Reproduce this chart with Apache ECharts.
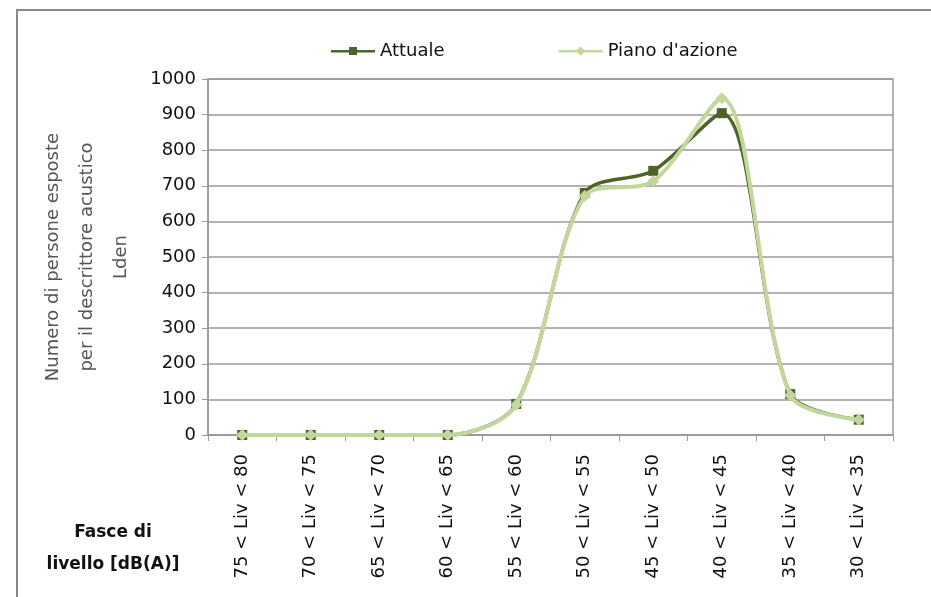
<!DOCTYPE html>
<html>
<head>
<meta charset="utf-8">
<script src="https://cdn.jsdelivr.net/npm/echarts@6/dist/echarts.min.js"></script>
<style>
html,body{margin:0;padding:0;background:#fff;}
#c{width:931px;height:597px;}
</style>
</head>
<body>
<div id="c"></div>
<script>
const categories = ['75 < Liv < 80','70 < Liv < 75','65 < Liv < 70','60 < Liv < 65','55 < Liv < 60','50 < Liv < 55','45 < Liv < 50','40 < Liv < 45','35 < Liv < 40','30 < Liv < 35'];
const attuale = [0, 0, 0, 0, 87, 680, 742, 904, 115, 43];
const pianoAzione = [0, 0, 0, 0, 85, 671, 713, 946, 112, 43];
const seriesNames = ['Attuale', "Piano d'azione"];
const yTitle = 'Numero di persone esposte\nper il descrittore acustico\nLden';
const xTitle = 'Fasce di\nlivello [dB(A)]';

const FONT = "'DejaVu Sans', sans-serif";
const chart = echarts.init(document.getElementById('c'), null, {renderer:'canvas'});
chart.setOption({
  animation:false,
  backgroundColor:'#fff',
  textStyle:{fontFamily:FONT},
  legend:{
    top:37, left:326,
    itemGap:114, itemWidth:44, itemHeight:10,
    textStyle:{fontSize:18, color:'#111', fontFamily:FONT},
    data:[
      {name:seriesNames[0], icon:'path://M0,4 L44,4 L44,6.5 L0,6.5 Z M18,1 L26,1 L26,9 L18,9 Z'},
      {name:seriesNames[1], icon:'path://M0,4 L44,4 L44,6.5 L0,6.5 Z M22,0.5 L27,5 L22,9.5 L17,5 Z'}
    ]
  },
  grid:{left:208, right:38, top:79, bottom:162, containLabel:false, show:true, borderColor:'#999', borderWidth:1.5, backgroundColor:'transparent'},
  xAxis:{
    type:'category', data:categories, boundaryGap:true,
    axisLine:{lineStyle:{color:'#999', width:1.5}},
    axisTick:{show:true, length:6, alignWithLabel:false, lineStyle:{color:'#999'}},
    axisLabel:{rotate:90, fontSize:18, color:'#111', margin:19, fontFamily:FONT}
  },
  yAxis:{
    type:'value', min:0, max:1000, interval:100,
    name:yTitle, nameLocation:'middle', nameRotate:90, nameGap:70,
    nameTextStyle:{fontSize:18, color:'#555', lineHeight:34, align:'center', fontFamily:FONT},
    axisLine:{show:true, lineStyle:{color:'#999', width:1.5}},
    axisTick:{show:true, length:6, inside:false, lineStyle:{color:'#999'}},
    axisLabel:{fontSize:18, color:'#111', margin:12, fontFamily:FONT, formatter:(v)=>String(v)},
    splitLine:{lineStyle:{color:'#999', width:1.5}}
  },
  graphic:[
    {type:'rect', shape:{x:17, y:10, width:940, height:620}, style:{fill:'none', stroke:'#888', lineWidth:2}, silent:true},
    {type:'text', x:113, y:517, style:{text:xTitle, fontSize:17, fill:'#111', lineHeight:32, align:'center', fontFamily:FONT, fontWeight:'bold'}}
  ],
  series:[
    {
      name:seriesNames[0], type:'line', data:attuale, smooth:0.3,
      symbol:'rect', symbolSize:10,
      lineStyle:{color:'#4f6228', width:3.5},
      itemStyle:{color:'#4f6228'}, z:3
    },
    {
      name:seriesNames[1], type:'line', data:pianoAzione, smooth:0.3,
      symbol:'diamond', symbolSize:12,
      lineStyle:{color:'#c3d69b', width:4},
      itemStyle:{color:'#c3d69b'}, z:4
    }
  ]
});
</script>
</body>
</html>
